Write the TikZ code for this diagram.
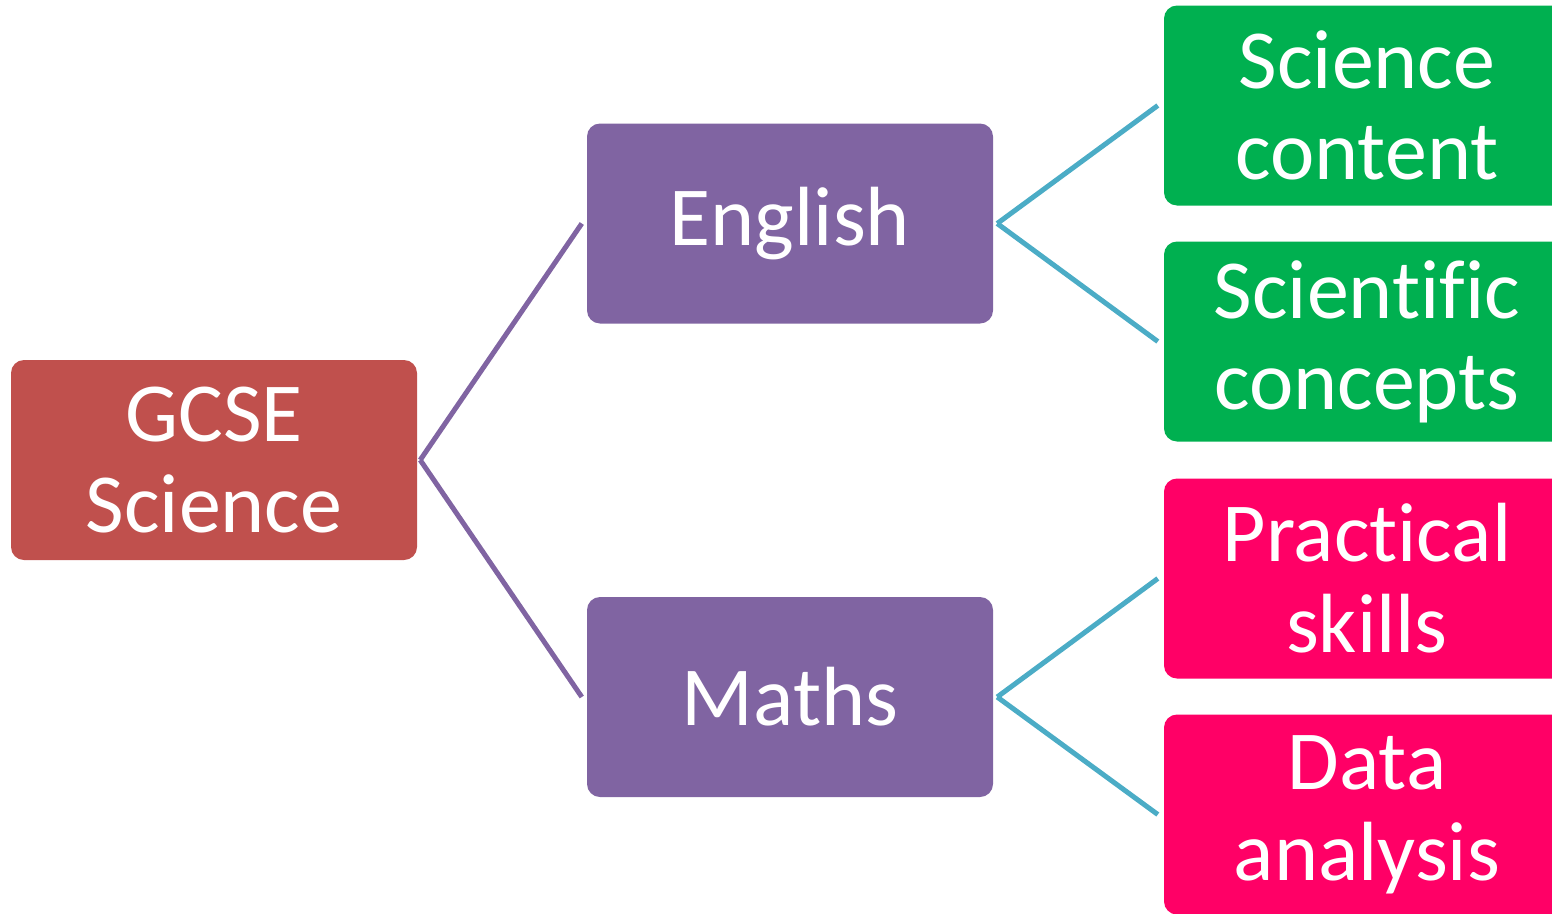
\documentclass[tikz,border=0pt]{standalone}
\usepackage{fontspec}
\setmainfont[RawFeature={-liga;-clig;-calt;-dlig}]{Carlito}
\definecolor{rootred}{HTML}{C0504D}
\definecolor{subjpurple}{HTML}{8064A2}
\definecolor{leafgreen}{HTML}{00B050}
\definecolor{leafpink}{HTML}{FF0066}
\definecolor{linkteal}{HTML}{4BACC6}
\begin{document}
\begin{tikzpicture}[x=1pt,y=-1pt,
  box/.style={rounded corners=13pt, inner sep=0pt, minimum width=406pt,
    minimum height=200pt, text width=396pt, align=center, text=white,
    font=\fontsize{84}{91}\selectfont},
  rootbox/.style={box, fill=rootred},
  subjbox/.style={box, fill=subjpurple},
  greenbox/.style={box, fill=leafgreen},
  pinkbox/.style={box, fill=leafpink},
  purplelink/.style={draw=subjpurple, line width=5pt},
  teallink/.style={draw=linkteal, line width=5pt}]
\useasboundingbox (0,0) rectangle (1552,913);
\clip (0,0) rectangle (1552,913);

\node[rootbox] (gcse) at (214,460) {GCSE\\Science};
\node[subjbox] (english) at (790,223.5) {English};
\node[subjbox] (maths) at (790,697) {Maths};
\node[greenbox] (content) at (1367,105.5) {\raisebox{3pt}{\parbox{396pt}{\centering Science\\content}}};
\node[greenbox] (concepts) at (1367,341.5) {Scient\kern0pt ific\\concepts};
\node[pinkbox] (practical) at (1367,578.5) {Pract\kern0pt ical\\skills};
\node[pinkbox] (data) at (1367,814.5) {\raisebox{3pt}{\parbox{396pt}{\centering Data\\analysis}}};

\draw[purplelink] ([xshift=3pt]gcse.east) -- ([xshift=-5pt]english.west);
\draw[purplelink] ([xshift=3pt]gcse.east) -- ([xshift=-5pt]maths.west);
\draw[teallink] ([xshift=4pt]english.east) -- ([xshift=-6pt]content.west);
\draw[teallink] ([xshift=4pt]english.east) -- ([xshift=-6pt]concepts.west);
\draw[teallink] ([xshift=4pt]maths.east) -- ([xshift=-6pt]practical.west);
\draw[teallink] ([xshift=4pt]maths.east) -- ([xshift=-6pt]data.west);
\end{tikzpicture}
\end{document}
